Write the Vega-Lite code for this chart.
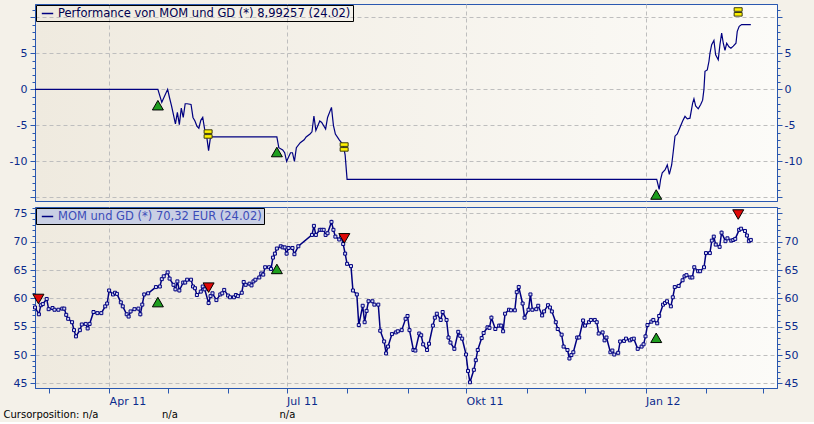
{
  "$schema": "https://vega.github.io/schema/vega-lite/v6.json",
  "background": "#F4F1E9",
  "padding": {"left": 3, "top": 3, "right": 12, "bottom": 2},
  "spacing": 4,
  "datasets": {
    "price": [
      {"d":"2011-02-22","v":58.4},{"d":"2011-02-24","v":57.2},{"d":"2011-02-25","v":58.8},{"d":"2011-02-26","v":59.0},{"d":"2011-02-28","v":59.9},
      {"d":"2011-03-01","v":58.1},{"d":"2011-03-03","v":58.3},{"d":"2011-03-04","v":58.0},{"d":"2011-03-06","v":58.0},{"d":"2011-03-08","v":58.2},
      {"d":"2011-03-09","v":58.2},{"d":"2011-03-10","v":57.1},{"d":"2011-03-11","v":56.4},{"d":"2011-03-13","v":55.8},{"d":"2011-03-14","v":54.4},
      {"d":"2011-03-15","v":53.3},{"d":"2011-03-17","v":54.4},{"d":"2011-03-18","v":55.4},{"d":"2011-03-20","v":55.5},{"d":"2011-03-21","v":54.7},
      {"d":"2011-03-22","v":55.5},{"d":"2011-03-24","v":57.6},{"d":"2011-03-26","v":57.4},{"d":"2011-03-28","v":57.4},{"d":"2011-03-30","v":58.6},
      {"d":"2011-03-31","v":59.1},{"d":"2011-04-01","v":61.4},{"d":"2011-04-03","v":60.7},{"d":"2011-04-04","v":61.0},{"d":"2011-04-05","v":60.8},
      {"d":"2011-04-07","v":59.3},{"d":"2011-04-08","v":58.6},{"d":"2011-04-10","v":57.2},{"d":"2011-04-11","v":56.8},{"d":"2011-04-12","v":57.7},
      {"d":"2011-04-14","v":58.1},{"d":"2011-04-16","v":58.2},{"d":"2011-04-17","v":57.2},{"d":"2011-04-18","v":58.9},{"d":"2011-04-19","v":60.7},
      {"d":"2011-04-21","v":60.9},{"d":"2011-04-25","v":62.0},{"d":"2011-04-27","v":62.1},{"d":"2011-04-28","v":63.4},{"d":"2011-04-29","v":63.9},
      {"d":"2011-05-01","v":64.6},{"d":"2011-05-02","v":63.5},{"d":"2011-05-04","v":62.4},{"d":"2011-05-05","v":61.6},{"d":"2011-05-06","v":63.0},
      {"d":"2011-05-07","v":61.4},{"d":"2011-05-09","v":62.8},{"d":"2011-05-10","v":62.8},{"d":"2011-05-11","v":63.3},{"d":"2011-05-13","v":63.3},
      {"d":"2011-05-14","v":62.1},{"d":"2011-05-15","v":61.8},{"d":"2011-05-16","v":60.6},{"d":"2011-05-18","v":61.2},{"d":"2011-05-19","v":62.1},
      {"d":"2011-05-20","v":61.6},{"d":"2011-05-22","v":59.2},{"d":"2011-05-23","v":60.4},{"d":"2011-05-24","v":60.9},{"d":"2011-05-26","v":59.7},
      {"d":"2011-05-28","v":60.7},{"d":"2011-05-29","v":60.9},{"d":"2011-05-30","v":61.5},{"d":"2011-06-01","v":60.5},{"d":"2011-06-02","v":60.2},
      {"d":"2011-06-04","v":60.2},{"d":"2011-06-05","v":60.6},{"d":"2011-06-06","v":60.4},{"d":"2011-06-08","v":61.0},{"d":"2011-06-09","v":62.9},
      {"d":"2011-06-10","v":62.4},{"d":"2011-06-12","v":62.6},{"d":"2011-06-13","v":62.3},{"d":"2011-06-14","v":63.0},{"d":"2011-06-15","v":63.3},
      {"d":"2011-06-17","v":63.7},{"d":"2011-06-18","v":64.4},{"d":"2011-06-19","v":64.2},{"d":"2011-06-20","v":65.5},{"d":"2011-06-22","v":65.5},
      {"d":"2011-06-23","v":65.2},{"d":"2011-06-24","v":67.2},{"d":"2011-06-25","v":67.9},{"d":"2011-06-26","v":68.8},{"d":"2011-06-28","v":69.2},
      {"d":"2011-06-29","v":69.0},{"d":"2011-06-30","v":69.0},{"d":"2011-07-01","v":67.9},{"d":"2011-07-02","v":68.9},{"d":"2011-07-04","v":68.9},
      {"d":"2011-07-05","v":67.8},{"d":"2011-07-07","v":69.2},{"d":"2011-07-14","v":71.2},{"d":"2011-07-15","v":72.8},{"d":"2011-07-16","v":71.2},
      {"d":"2011-07-18","v":72.1},{"d":"2011-07-19","v":72.1},{"d":"2011-07-20","v":72.1},{"d":"2011-07-21","v":71.2},{"d":"2011-07-22","v":71.5},
      {"d":"2011-07-24","v":73.5},{"d":"2011-07-25","v":72.1},{"d":"2011-07-26","v":70.9},{"d":"2011-07-28","v":70.4},{"d":"2011-07-29","v":70.9},
      {"d":"2011-07-30","v":69.6},{"d":"2011-07-31","v":67.9},{"d":"2011-08-01","v":66.1},{"d":"2011-08-03","v":65.7},{"d":"2011-08-04","v":61.4},
      {"d":"2011-08-06","v":60.7},{"d":"2011-08-07","v":55.3},{"d":"2011-08-09","v":58.7},{"d":"2011-08-10","v":55.8},{"d":"2011-08-11","v":57.8},
      {"d":"2011-08-12","v":59.5},{"d":"2011-08-14","v":59.5},{"d":"2011-08-15","v":58.9},{"d":"2011-08-17","v":58.9},{"d":"2011-08-18","v":54.3},
      {"d":"2011-08-20","v":52.4},{"d":"2011-08-21","v":50.3},{"d":"2011-08-22","v":51.5},{"d":"2011-08-24","v":53.7},{"d":"2011-08-26","v":54.0},
      {"d":"2011-08-27","v":54.2},{"d":"2011-08-29","v":54.4},{"d":"2011-08-31","v":56.4},{"d":"2011-09-01","v":56.9},{"d":"2011-09-02","v":54.4},
      {"d":"2011-09-04","v":50.9},{"d":"2011-09-05","v":50.8},{"d":"2011-09-07","v":53.8},{"d":"2011-09-08","v":53.5},{"d":"2011-09-09","v":51.9},
      {"d":"2011-09-11","v":50.9},{"d":"2011-09-12","v":52.0},{"d":"2011-09-14","v":55.2},{"d":"2011-09-15","v":56.6},{"d":"2011-09-16","v":57.3},
      {"d":"2011-09-18","v":56.2},{"d":"2011-09-19","v":57.6},{"d":"2011-09-21","v":56.2},{"d":"2011-09-22","v":53.1},{"d":"2011-09-23","v":52.2},
      {"d":"2011-09-25","v":51.1},{"d":"2011-09-27","v":54.1},{"d":"2011-09-28","v":53.4},{"d":"2011-09-29","v":52.9},{"d":"2011-10-01","v":50.1},
      {"d":"2011-10-02","v":47.2},{"d":"2011-10-03","v":45.2},{"d":"2011-10-05","v":47.4},{"d":"2011-10-06","v":49.1},{"d":"2011-10-07","v":50.9},
      {"d":"2011-10-09","v":53.0},{"d":"2011-10-10","v":53.9},{"d":"2011-10-12","v":54.9},{"d":"2011-10-13","v":54.8},{"d":"2011-10-14","v":56.6},
      {"d":"2011-10-16","v":54.6},{"d":"2011-10-18","v":55.2},{"d":"2011-10-19","v":55.2},{"d":"2011-10-20","v":54.2},{"d":"2011-10-21","v":57.3},
      {"d":"2011-10-23","v":58.0},{"d":"2011-10-24","v":57.9},{"d":"2011-10-26","v":57.9},{"d":"2011-10-27","v":61.1},{"d":"2011-10-28","v":62.0},
      {"d":"2011-10-30","v":59.1},{"d":"2011-10-31","v":56.6},{"d":"2011-11-02","v":58.0},{"d":"2011-11-03","v":60.7},{"d":"2011-11-04","v":58.0},
      {"d":"2011-11-06","v":58.1},{"d":"2011-11-07","v":58.7},{"d":"2011-11-09","v":57.0},{"d":"2011-11-10","v":57.7},{"d":"2011-11-12","v":58.8},
      {"d":"2011-11-13","v":58.4},{"d":"2011-11-14","v":57.7},{"d":"2011-11-16","v":55.8},{"d":"2011-11-17","v":54.6},{"d":"2011-11-19","v":53.6},
      {"d":"2011-11-20","v":51.5},{"d":"2011-11-22","v":50.9},{"d":"2011-11-23","v":49.4},{"d":"2011-11-24","v":50.0},{"d":"2011-11-25","v":50.5},
      {"d":"2011-11-27","v":53.1},{"d":"2011-11-28","v":53.1},{"d":"2011-11-30","v":56.1},{"d":"2011-12-01","v":55.2},{"d":"2011-12-03","v":55.8},
      {"d":"2011-12-04","v":56.2},{"d":"2011-12-06","v":56.2},{"d":"2011-12-07","v":55.8},{"d":"2011-12-08","v":53.8},{"d":"2011-12-10","v":54.0},
      {"d":"2011-12-11","v":52.6},{"d":"2011-12-12","v":53.1},{"d":"2011-12-14","v":50.5},{"d":"2011-12-15","v":50.8},{"d":"2011-12-16","v":50.1},
      {"d":"2011-12-18","v":50.4},{"d":"2011-12-19","v":52.4},{"d":"2011-12-21","v":52.5},{"d":"2011-12-22","v":52.9},{"d":"2011-12-24","v":52.6},
      {"d":"2011-12-25","v":52.8},{"d":"2011-12-26","v":52.9},{"d":"2011-12-28","v":51.1},{"d":"2011-12-30","v":51.5},{"d":"2011-12-31","v":51.9},
      {"d":"2012-01-01","v":53.3},{"d":"2012-01-02","v":55.3},{"d":"2012-01-04","v":55.9},{"d":"2012-01-05","v":56.2},{"d":"2012-01-07","v":55.6},
      {"d":"2012-01-08","v":56.9},{"d":"2012-01-10","v":58.9},{"d":"2012-01-11","v":59.2},{"d":"2012-01-12","v":59.5},{"d":"2012-01-14","v":58.6},
      {"d":"2012-01-15","v":60.2},{"d":"2012-01-16","v":62.0},{"d":"2012-01-18","v":62.2},{"d":"2012-01-20","v":63.2},{"d":"2012-01-21","v":63.9},
      {"d":"2012-01-22","v":64.1},{"d":"2012-01-24","v":63.7},{"d":"2012-01-25","v":63.7},{"d":"2012-01-26","v":65.5},{"d":"2012-01-28","v":64.8},
      {"d":"2012-01-29","v":64.8},{"d":"2012-01-31","v":65.5},{"d":"2012-02-01","v":68.0},{"d":"2012-02-03","v":68.0},{"d":"2012-02-04","v":70.2},
      {"d":"2012-02-05","v":70.9},{"d":"2012-02-06","v":69.5},{"d":"2012-02-08","v":69.1},{"d":"2012-02-09","v":71.6},{"d":"2012-02-11","v":70.1},
      {"d":"2012-02-12","v":70.6},{"d":"2012-02-14","v":70.2},{"d":"2012-02-15","v":70.3},{"d":"2012-02-16","v":70.5},{"d":"2012-02-18","v":72.1},
      {"d":"2012-02-19","v":72.3},{"d":"2012-02-21","v":71.9},{"d":"2012-02-22","v":71.1},{"d":"2012-02-23","v":70.1},{"d":"2012-02-24","v":70.32}
    ],
    "perf": [
      {"d":"2011-02-22","v":0},{"d":"2011-04-26","v":0},{"d":"2011-04-28","v":-1.8},{"d":"2011-05-01","v":0},{"d":"2011-05-02","v":-1.2},
      {"d":"2011-05-03","v":-2.3},{"d":"2011-05-05","v":-4.8},{"d":"2011-05-06","v":-3.2},{"d":"2011-05-07","v":-4.9},{"d":"2011-05-08","v":-2.6},
      {"d":"2011-05-09","v":-3.9},{"d":"2011-05-10","v":-2.0},{"d":"2011-05-11","v":-2.0},{"d":"2011-05-13","v":-2.1},{"d":"2011-05-14","v":-3.9},
      {"d":"2011-05-15","v":-4.4},{"d":"2011-05-16","v":-5.1},{"d":"2011-05-17","v":-5.4},{"d":"2011-05-18","v":-4.3},{"d":"2011-05-19","v":-3.9},
      {"d":"2011-05-20","v":-5.6},{"d":"2011-05-21","v":-6.5},{"d":"2011-05-22","v":-8.5},{"d":"2011-05-23","v":-6.6},{"d":"2011-06-26","v":-6.6},
      {"d":"2011-06-27","v":-8.1},{"d":"2011-06-29","v":-8.4},{"d":"2011-06-30","v":-8.8},{"d":"2011-07-01","v":-10.0},{"d":"2011-07-02","v":-9.4},
      {"d":"2011-07-03","v":-8.8},{"d":"2011-07-04","v":-8.8},{"d":"2011-07-05","v":-10.0},{"d":"2011-07-06","v":-8.1},{"d":"2011-07-08","v":-7.4},
      {"d":"2011-07-10","v":-7.0},{"d":"2011-07-11","v":-6.6},{"d":"2011-07-13","v":-6.2},{"d":"2011-07-14","v":-5.9},{"d":"2011-07-15","v":-3.7},
      {"d":"2011-07-16","v":-5.7},{"d":"2011-07-18","v":-4.4},{"d":"2011-07-19","v":-4.6},{"d":"2011-07-21","v":-5.5},{"d":"2011-07-22","v":-3.9},
      {"d":"2011-07-24","v":-2.5},{"d":"2011-07-25","v":-5.0},{"d":"2011-07-26","v":-6.2},{"d":"2011-07-28","v":-7.0},{"d":"2011-07-30","v":-7.7},
      {"d":"2011-07-31","v":-9.1},{"d":"2011-08-01","v":-12.5},{"d":"2012-01-06T18:00Z","v":-12.5},{"d":"2012-01-08","v":-13.9},
      {"d":"2012-01-08T18:00Z","v":-12.5},{"d":"2012-01-09T14:00Z","v":-11.6},{"d":"2012-01-11","v":-11.2},{"d":"2012-01-12T04:00Z","v":-10.5},
      {"d":"2012-01-13T05:00Z","v":-11.8},{"d":"2012-01-14T10:00Z","v":-10.5},{"d":"2012-01-15T06:00Z","v":-8.6},{"d":"2012-01-16T03:00Z","v":-6.5},
      {"d":"2012-01-17T07:00Z","v":-6.2},{"d":"2012-01-18T16:00Z","v":-5.3},{"d":"2012-01-20T01:00Z","v":-4.4},{"d":"2012-01-21T06:00Z","v":-3.75},
      {"d":"2012-01-22T10:00Z","v":-4.1},{"d":"2012-01-23T19:00Z","v":-4.0},{"d":"2012-01-25T04:00Z","v":-1.9},{"d":"2012-01-25T20:00Z","v":-1.3},
      {"d":"2012-01-26T17:00Z","v":-2.3},{"d":"2012-01-28T01:00Z","v":-2.7},{"d":"2012-01-29T07:00Z","v":-2.1},{"d":"2012-01-30T07:00Z","v":-1.5},
      {"d":"2012-01-30T23:00Z","v":0.0},{"d":"2012-01-31T12:00Z","v":2.5},{"d":"2012-02-01T16:00Z","v":2.7},{"d":"2012-02-02T13:00Z","v":3.9},
      {"d":"2012-02-03T01:00Z","v":5.0},{"d":"2012-02-03T22:00Z","v":6.2},{"d":"2012-02-05T02:00Z","v":6.8},{"d":"2012-02-05T23:00Z","v":4.8},
      {"d":"2012-02-07T07:00Z","v":4.1},{"d":"2012-02-08T04:00Z","v":6.2},{"d":"2012-02-09T01:00Z","v":7.8},{"d":"2012-02-09T21:00Z","v":6.4},
      {"d":"2012-02-10T18:00Z","v":5.4},{"d":"2012-02-11T15:00Z","v":6.4},{"d":"2012-02-12T19:00Z","v":5.9},{"d":"2012-02-13T19:00Z","v":5.7},
      {"d":"2012-02-15","v":6.0},{"d":"2012-02-16T09:00Z","v":6.4},{"d":"2012-02-17T01:00Z","v":8.05},{"d":"2012-02-18T01:00Z","v":8.75},
      {"d":"2012-02-19T07:00Z","v":8.99},{"d":"2012-02-24","v":8.99257}
    ],
    "perfSig": [
      {"d":"2011-04-26","v":-2.2,"k":"buy"},
      {"d":"2011-05-21T18:00Z","v":-6.2,"k":"exit"},
      {"d":"2011-06-26","v":-8.7,"k":"buy"},
      {"d":"2011-07-30T12:00Z","v":-8.0,"k":"exit"},
      {"d":"2012-01-06T12:00Z","v":-14.6,"k":"buy"},
      {"d":"2012-02-17T12:00Z","v":10.75,"k":"exit"}
    ],
    "priceSig": [
      {"d":"2011-02-23T18:00Z","v":59.9,"k":"sell"},
      {"d":"2011-04-26","v":59.35,"k":"buy"},
      {"d":"2011-05-22","v":61.9,"k":"sell"},
      {"d":"2011-06-26","v":65.2,"k":"buy"},
      {"d":"2011-07-30T14:00Z","v":70.6,"k":"sell"},
      {"d":"2012-01-06T12:00Z","v":53.05,"k":"buy"},
      {"d":"2012-02-17T13:00Z","v":74.8,"k":"sell"}
    ]
  },
  "title": {
    "text": "Cursorposition:\u00a0n/a\u00a0\u00a0\u00a0\u00a0\u00a0\u00a0\u00a0\u00a0\u00a0\u00a0\u00a0\u00a0\u00a0\u00a0\u00a0\u00a0\u00a0\u00a0\u00a0\u00a0n/a\u00a0\u00a0\u00a0\u00a0\u00a0\u00a0\u00a0\u00a0\u00a0\u00a0\u00a0\u00a0\u00a0\u00a0\u00a0\u00a0\u00a0\u00a0\u00a0\u00a0\u00a0\u00a0\u00a0\u00a0\u00a0\u00a0\u00a0\u00a0\u00a0\u00a0\u00a0\u00a0n/a",
    "orient": "bottom", "anchor": "start", "frame": "bounds",
    "font": "DejaVu Sans", "fontSize": 10, "fontWeight": "normal", "color": "#000000",
    "offset": 3, "dx": -5
  },
  "vconcat": [
    {
      "width": 742, "height": 197,
      "encoding": {
        "x": {"field": "d", "type": "temporal",
          "scale": {"type": "utc", "domain": [{"year":2011,"month":2,"date":22,"utc":true},{"year":2012,"month":3,"date":8,"hours":10,"utc":true}]},
          "axis": {"values": [{"year":2011,"month":4,"date":1,"utc":true},{"year":2011,"month":7,"date":1,"utc":true},{"year":2011,"month":10,"date":1,"utc":true},{"year":2012,"month":1,"date":1,"utc":true}],
                   "labels": false, "ticks": false, "domain": false, "grid": true, "minExtent": 0, "maxExtent": 0}}
      },
      "layer": [
        {
          "data": {"name": "perf"},
          "mark": {"type": "line", "strokeWidth": 1.2},
          "encoding": {
            "y": {"field": "v", "type": "quantitative", "scale": {"domain": [-15.5, 11.85], "nice": false, "zero": false},
              "axis": {"orient": "left", "values": [-15,-14,-13,-12,-11,-10,-9,-8,-7,-6,-5,-4,-3,-2,-1,0,1,2,3,4,5,6,7,8,9,10,11],
                "labelExpr": "(datum.value % 5 === 0 && datum.value <= 5 && datum.value >= -10) ? ('' + datum.value) : ''",
                "labelFontSize": {"condition": {"test": "datum.value % 5 === 0 && datum.value <= 5 && datum.value >= -10", "value": 11}, "value": 0},
                "labelPadding": 3,
                "tickSize": {"condition": {"test": "datum.value % 5 === 0", "value": 5}, "value": 3},
                "grid": true,
                "gridOpacity": {"condition": {"test": "datum.value % 5 === 0", "value": 1}, "value": 0}}},
            "color": {"datum": "Performance von MOM und GD (*) 8,99257 (24.02)", "type": "nominal", "scale": {"range": ["#000080"]},
              "legend": {"title": null, "labelColor": "#000050"}}
          }
        },
        {
          "data": {"name": "perfSig"},
          "transform": [{"filter": "datum.k === 'buy'"}],
          "mark": {"type": "point", "shape": "triangle-up", "filled": true, "fill": "#1E9E1E", "stroke": "#000000", "strokeWidth": 1, "size": 121, "opacity": 1},
          "encoding": {
            "y": {"field": "v", "type": "quantitative", "scale": {"domain": [-15.5, 11.85], "nice": false, "zero": false},
              "axis": {"orient": "right", "values": [-15,-14,-13,-12,-11,-10,-9,-8,-7,-6,-5,-4,-3,-2,-1,0,1,2,3,4,5,6,7,8,9,10,11],
                "labelExpr": "(datum.value % 5 === 0 && datum.value <= 5 && datum.value >= -10) ? ('' + datum.value) : ''",
                "labelFontSize": {"condition": {"test": "datum.value % 5 === 0 && datum.value <= 5 && datum.value >= -10", "value": 11}, "value": 0},
                "labelPadding": 2,
                "tickSize": {"condition": {"test": "datum.value % 5 === 0", "value": 5}, "value": 3},
                "grid": false}}
          }
        },
        {
          "data": {"name": "perfSig"},
          "transform": [{"filter": "datum.k === 'exit'"}],
          "mark": {"type": "point", "shape": "M-1,-1.05H1V-0.15H-1Z M-1,0.15H1V1.05H-1Z", "filled": true, "fill": "#FFF200", "stroke": "#3A3A10", "strokeWidth": 1, "size": 64, "opacity": 1},
          "encoding": {
            "y": {"field": "v", "type": "quantitative", "scale": {"domain": [-15.5, 11.85], "nice": false, "zero": false}, "axis": null}
          }
        }
      ],
      "resolve": {"axis": {"y": "independent"}}
    },
    {
      "width": 742, "height": 181,
      "encoding": {
        "x": {"field": "d", "type": "temporal",
          "scale": {"type": "utc", "domain": [{"year":2011,"month":2,"date":22,"utc":true},{"year":2012,"month":3,"date":8,"hours":10,"utc":true}]},
          "axis": {"values": [{"year":2011,"month":3,"date":1,"utc":true},{"year":2011,"month":4,"date":1,"utc":true},{"year":2011,"month":5,"date":1,"utc":true},{"year":2011,"month":6,"date":1,"utc":true},{"year":2011,"month":7,"date":1,"utc":true},{"year":2011,"month":8,"date":1,"utc":true},{"year":2011,"month":9,"date":1,"utc":true},{"year":2011,"month":10,"date":1,"utc":true},{"year":2011,"month":11,"date":1,"utc":true},{"year":2011,"month":12,"date":1,"utc":true},{"year":2012,"month":1,"date":1,"utc":true},{"year":2012,"month":2,"date":1,"utc":true},{"year":2012,"month":3,"date":1,"utc":true}],
            "labelExpr": "utcmonth(datum.value) % 3 === 0 ? (['Jan','Feb','Mrz','Apr','Mai','Jun','Jul','Aug','Sep','Okt','Nov','Dez'][utcmonth(datum.value)] + ' ' + utcFormat(datum.value, '%y')) : ''",
            "labelAlign": "left", "labelPadding": 2, "tickSize": 5, "domain": true, "grid": true,
            "gridOpacity": {"condition": {"test": "utcmonth(datum.value) % 3 === 0", "value": 1}, "value": 0}}}
      },
      "layer": [
        {
          "data": {"name": "price"},
          "mark": {"type": "line", "strokeWidth": 1.5},
          "encoding": {
            "y": {"field": "v", "type": "quantitative", "scale": {"domain": [44.19, 76.13], "nice": false, "zero": false},
              "axis": {"orient": "left", "values": [45,46,47,48,49,50,51,52,53,54,55,56,57,58,59,60,61,62,63,64,65,66,67,68,69,70,71,72,73,74,75,76],
                "labelExpr": "datum.value % 5 === 0 ? ('' + datum.value) : ''",
                "labelFontSize": {"condition": {"test": "datum.value % 5 === 0", "value": 11}, "value": 0},
                "labelPadding": 3,
                "tickSize": {"condition": {"test": "datum.value % 5 === 0", "value": 5}, "value": 3},
                "grid": true,
                "gridOpacity": {"condition": {"test": "datum.value % 5 === 0", "value": 1}, "value": 0}}},
            "color": {"datum": "MOM und GD (*) 70,32 EUR (24.02)", "type": "nominal", "scale": {"range": ["#000080"]},
              "legend": {"title": null, "labelColor": "#3C4CB8", "fillColor": "#C9CFE4"}}
          }
        },
        {
          "data": {"name": "price"},
          "mark": {"type": "point", "shape": "square", "filled": true, "fill": "#D5D9F2", "stroke": "#000080", "strokeWidth": 1, "size": 9, "opacity": 1},
          "encoding": {
            "y": {"field": "v", "type": "quantitative", "scale": {"domain": [44.19, 76.13], "nice": false, "zero": false},
              "axis": {"orient": "right", "values": [45,46,47,48,49,50,51,52,53,54,55,56,57,58,59,60,61,62,63,64,65,66,67,68,69,70,71,72,73,74,75,76],
                "labelExpr": "(datum.value % 5 === 0 && datum.value < 75) ? ('' + datum.value) : ''",
                "labelFontSize": {"condition": {"test": "datum.value % 5 === 0 && datum.value < 75", "value": 11}, "value": 0},
                "labelPadding": 2,
                "tickSize": {"condition": {"test": "datum.value % 5 === 0", "value": 5}, "value": 3},
                "grid": false}}
          }
        },
        {
          "data": {"name": "priceSig"},
          "transform": [{"filter": "datum.k === 'buy'"}],
          "mark": {"type": "point", "shape": "triangle-up", "filled": true, "fill": "#1E9E1E", "stroke": "#000000", "strokeWidth": 1, "size": 121, "opacity": 1},
          "encoding": {
            "y": {"field": "v", "type": "quantitative", "scale": {"domain": [44.19, 76.13], "nice": false, "zero": false}, "axis": null}
          }
        },
        {
          "data": {"name": "priceSig"},
          "transform": [{"filter": "datum.k === 'sell'"}],
          "mark": {"type": "point", "shape": "triangle-down", "filled": true, "fill": "#E00808", "stroke": "#000000", "strokeWidth": 1, "size": 121, "opacity": 1},
          "encoding": {
            "y": {"field": "v", "type": "quantitative", "scale": {"domain": [44.19, 76.13], "nice": false, "zero": false}, "axis": null}
          }
        }
      ],
      "resolve": {"axis": {"y": "independent"}}
    }
  ],
  "resolve": {"scale": {"color": "independent"}, "legend": {"color": "independent"}},
  "config": {
    "font": "DejaVu Sans",
    "view": {"stroke": "#2A58B0", "strokeWidth": 1,
      "fill": {"gradient": "linear", "x1": 0, "y1": 0, "x2": 1, "y2": 0, "stops": [{"offset": 0, "color": "#EFEADF"}, {"offset": 1, "color": "#FCFBF8"}]}},
    "axis": {"domainColor": "#2A58B0", "tickColor": "#2A58B0", "labelColor": "#0B2B8C", "labelFont": "DejaVu Sans", "labelFontSize": 11,
      "gridColor": "#BEBEBE", "gridDash": [4, 3], "title": null, "labelOverlap": false, "labelFlush": false, "labelBound": false},
    "legend": {"orient": "top-left", "offset": 1, "padding": 2, "strokeColor": "#000000", "symbolType": "stroke", "symbolSize": 130,
      "symbolStrokeWidth": 1.5, "symbolOffset": 3, "labelFont": "DejaVu Sans", "labelFontSize": 11.5, "labelLimit": 500, "labelOffset": 4}
  }
}
